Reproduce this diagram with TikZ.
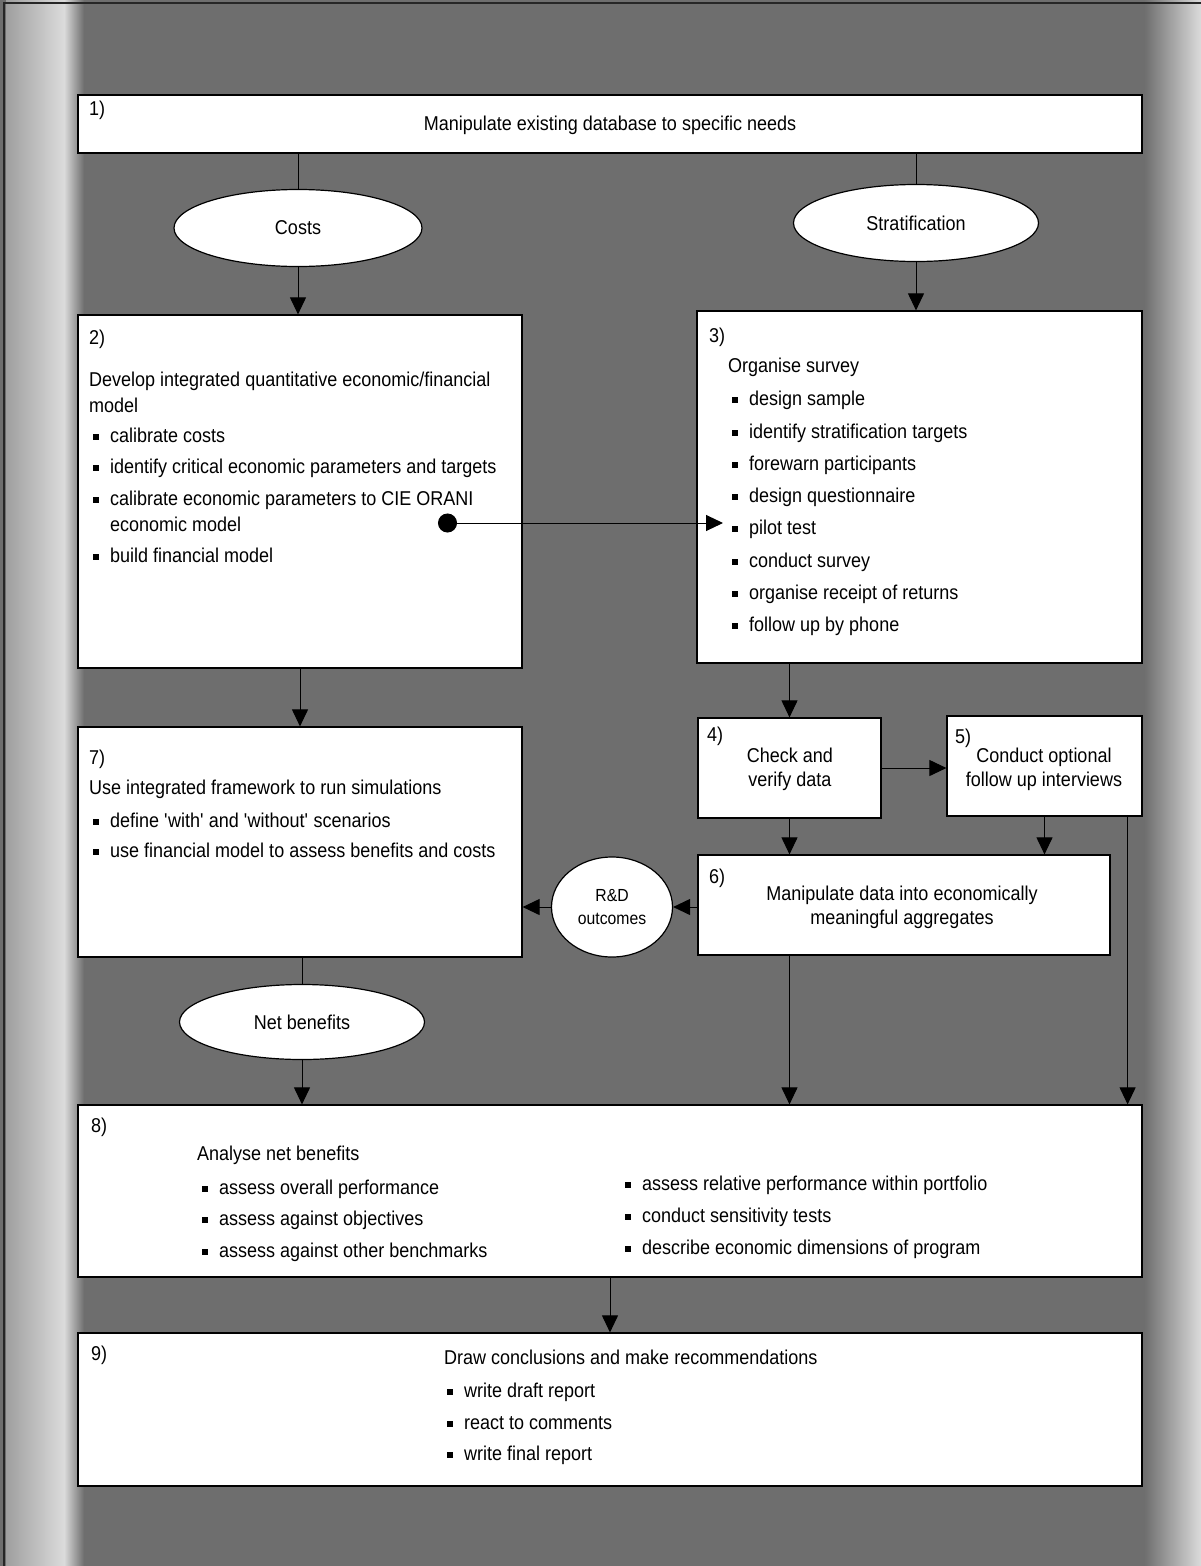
\documentclass[tikz,border=0pt]{standalone}
\usepackage{fontspec}
\setmainfont{Liberation Sans}[FakeStretch=0.9]
\usetikzlibrary{shapes.geometric,arrows.meta,calc}
\definecolor{scan}{gray}{0.43}
\definecolor{scanlight}{gray}{0.86}
\newcommand{\bul}{\makebox[17pt][l]{\rule[2.2pt]{6pt}{6pt}}}

\begin{document}
\begin{tikzpicture}[x=1pt, y=-1pt, font=\fontsize{20}{24}\selectfont,
		box/.style={draw, fill=white, line width=1.2pt, inner sep=0pt},
		oval/.style={draw, ellipse, fill=white, line width=1.2pt, inner sep=0pt, align=center},
		txt/.style={inner sep=0pt, anchor=mid west},
		ctr/.style={inner sep=0pt, align=center},
		link/.style={line width=1pt},
		arr/.style={line width=1pt, -{Triangle[width=16pt,length=17pt]}}]
		\useasboundingbox (0,0) rectangle (1201,1566);

		% scanned background
		\fill[scan] (0,0) rectangle (1201,1566);
		\shade[left color=scan!55!scanlight, right color=scanlight] (6,0) rectangle (64,1566);
		\shade[left color=scanlight, right color=scan] (64,0) rectangle (84,1566);
		\shade[left color=scan, right color=scanlight] (1144,0) rectangle (1201,1566);
		\draw[line width=1.5pt, black!85] (4,1566) -- (4,3) -- (1201,3);

		% boxes
		\node[box, minimum width=1064pt, minimum height=58pt] (b1) at (610,124) {};
		\node[box, minimum width=444pt, minimum height=353pt] (b2) at (300,491.5) {};
		\node[box, minimum width=445pt, minimum height=352pt] (b3) at (919.5,487) {};
		\node[box, minimum width=183pt, minimum height=100pt] (b4) at (789.5,768) {};
		\node[box, minimum width=195pt, minimum height=100pt] (b5) at (1044.5,766) {};
		\node[box, minimum width=412pt, minimum height=100pt] (b6) at (904,905) {};
		\node[box, minimum width=444pt, minimum height=230pt] (b7) at (300,842) {};
		\node[box, minimum width=1064pt, minimum height=172pt] (b8) at (610,1191) {};
		\node[box, minimum width=1064pt, minimum height=153pt] (b9) at (610,1409.5) {};

		% ovals
		\node[oval, minimum width=248pt, minimum height=77pt] (costs) at (298,228) {Costs};
		\node[oval, minimum width=245pt, minimum height=77pt] (strat) at (916,223) {Stratification};
		\node[oval, minimum width=121pt, minimum height=100pt, font=\fontsize{17.5}{23}\selectfont] (rd) at (612,907) {R\&D\\outcomes};
		\node[oval, minimum width=245pt, minimum height=75pt] (net) at (302,1022) {Net benefits};

		% box 1
		\node[txt] (n1) at (89,113) {1)};
		\node[ctr] (t1) at (610,125) {Manipulate existing database to specific needs};

		% box 2
		\node[txt] (n2) at (89,342) {2)};
		\node[txt] (t2) at (89,384) {Develop integrated quantitative economic/financial};
		\node[txt] (t2b) at (89,410) {model};
		\node[txt] (i2a) at (93,440) {\bul calibrate costs};
		\node[txt] (i2b) at (93,471) {\bul identify critical economic parameters and targets};
		\node[txt] (i2c) at (93,503) {\bul calibrate economic parameters to CIE ORANI};
		\node[txt] (i2d) at (110,529) {economic model};
		\node[txt] (i2e) at (93,560) {\bul build financial model};

		% box 3
		\node[txt] (n3) at (709,340) {3)};
		\node[txt] (t3) at (728,370) {Organise survey};
		\node[txt] (i3a) at (732,403) {\bul design sample};
		\node[txt] (i3b) at (732,435.5) {\bul identify stratification targets};
		\node[txt] (i3c) at (732,468) {\bul forewarn participants};
		\node[txt] (i3d) at (732,500) {\bul design questionnaire};
		\node[txt] (i3e) at (732,532) {\bul pilot test};
		\node[txt] (i3f) at (732,564.5) {\bul conduct survey};
		\node[txt] (i3g) at (732,597) {\bul organise receipt of returns};
		\node[txt] (i3h) at (732,629) {\bul follow up by phone};

		% boxes 4, 5, 6
		\node[txt] (n4) at (707,739) {4)};
		\node[ctr] (t4) at (790,769) {Check and\\verify data};
		\node[txt] (n5) at (955,741) {5)};
		\node[ctr] (t5) at (1044,769) {Conduct optional\\follow up interviews};
		\node[txt] (n6) at (709,881) {6)};
		\node[ctr] (t6) at (902,907) {Manipulate data into economically\\meaningful aggregates};

		% box 7
		\node[txt] (n7) at (89,762) {7)};
		\node[txt] (t7) at (89,792) {Use integrated framework to run simulations};
		\node[txt] (i7a) at (93,825) {\bul define \textquotesingle with\textquotesingle{} and \textquotesingle without\textquotesingle{} scenarios};
		\node[txt] (i7b) at (93,855) {\bul use financial model to assess benefits and costs};

		% box 8
		\node[txt] (n8) at (91,1130) {8)};
		\node[txt] (t8) at (197,1158) {Analyse net benefits};
		\node[txt] (i8a) at (202,1192) {\bul assess overall performance};
		\node[txt] (i8b) at (202,1223) {\bul assess against objectives};
		\node[txt] (i8c) at (202,1255) {\bul assess against other benchmarks};
		\node[txt] (i8d) at (625,1188) {\bul assess relative performance within portfolio};
		\node[txt] (i8e) at (625,1220) {\bul conduct sensitivity tests};
		\node[txt] (i8f) at (625,1252) {\bul describe economic dimensions of program};

		% box 9
		\node[txt] (n9) at (91,1358) {9)};
		\node[txt] (t9) at (444,1362) {Draw conclusions and make recommendations};
		\node[txt] (i9a) at (447,1395) {\bul write draft report};
		\node[txt] (i9b) at (447,1427) {\bul react to comments};
		\node[txt] (i9c) at (447,1458) {\bul write final report};

		% connectors
		\draw[link] (costs.north |- b1.south) -- (costs.north);
		\draw[arr] (costs.south) -- (costs.south |- b2.north);
		\draw[link] (strat.north |- b1.south) -- (strat.north);
		\draw[arr] (strat.south) -- (strat.south |- b3.north);
		\draw[arr] (b2.south) -- (b7.north);
		\coordinate (dot) at (438,523);
		\coordinate (pilot) at (723,523);
		\draw[line width=1pt, {Circle[length=19pt]}-{Triangle[width=16pt,length=17pt]}] (dot) -- (pilot);
		\draw[arr] (b4.north |- b3.south) -- (b4.north);
		\draw[arr] (b4.east) -- (b4.east -| b5.west);
		\draw[arr] (b4.south) -- (b4.south |- b6.north);
		\draw[arr] (b5.south) -- (b5.south |- b6.north);
		\coordinate (b5out) at ($(b5.south east)+(-15,0)$);
		\draw[arr] (b5out) -- (b5out |- b8.north);
		\draw[arr] (b6.west |- rd.east) -- (rd.east);
		\draw[arr] (rd.west) -- (rd.west -| b7.east);
		\draw[link] (net.north |- b7.south) -- (net.north);
		\draw[arr] (net.south) -- (net.south |- b8.north);
		\draw[arr] (b4.south |- b6.south) -- (b4.south |- b8.north);
		\draw[arr] (b8.south) -- (b9.north);

	\end{tikzpicture}
\end{document}
